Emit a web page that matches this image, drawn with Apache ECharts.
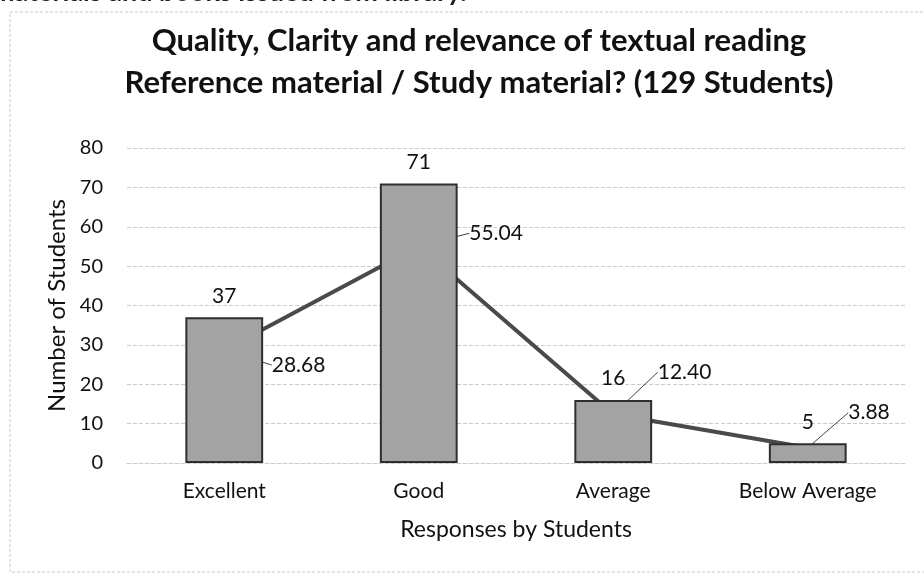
<!DOCTYPE html>
<html>
<head>
<meta charset="utf-8">
<script src="https://cdn.jsdelivr.net/npm/echarts@6/dist/echarts.min.js"></script>
<style>
  html, body { margin: 0; padding: 0; background: #fff; }
  #chart { width: 924px; height: 573px; }
</style>
</head>
<body>
<div id="chart"></div>
<script>
  // data
  var categories = ['Excellent', 'Good', 'Average', 'Below Average'];
  var students = [37, 71, 16, 5];
  var percents = [28.68, 55.04, 12.40, 3.88];
  var yTicks = { min: 0, max: 80, interval: 10 };
  // offsets of the percentage labels (pixels, relative to default spot)
  var pctLabelShift = [[42, 15], [45, -13], [39, -42], [35, -35]];

  var FONT = 'Lato, "Open Sans", sans-serif';
  var chart = echarts.init(document.getElementById('chart'));

  var option = {
    backgroundColor: '#fff',
    textStyle: { fontFamily: FONT },
    title: {
      text: 'Quality, Clarity and relevance of textual reading\nReference material / Study material? (129 Students)',
      left: 474,
      top: 15,
      textAlign: 'center',
      textStyle: { fontSize: 31, fontWeight: 'bold', color: '#111', lineHeight: 42, fontFamily: FONT }
    },
    graphic: [
      {
        // scanned page frame
        type: 'rect',
        shape: { x: 10, y: 12, width: 930, height: 560 },
        style: { fill: 'none', stroke: '#cfc6c6', lineWidth: 1, lineDash: [3, 2] },
        silent: true
      },
      {
        // line of page text cut off at the top of the scan
        type: 'text',
        left: -8,
        top: -21,
        style: { text: 'materials and books issued from library.', font: 'bold 27px ' + FONT, fill: '#222' },
        silent: true
      }
    ],
    grid: { left: 127, right: 19, top: 148, bottom: 110, containLabel: false },
    xAxis: {
      type: 'category',
      data: categories,
      name: 'Responses by Students',
      nameLocation: 'middle',
      nameGap: 55,
      nameTextStyle: { fontSize: 23, color: '#111' },
      axisLine: { show: true, lineStyle: { color: '#ccc', type: 'dashed' } },
      axisTick: { show: false },
      axisLabel: { fontSize: 21, color: '#111', margin: 18 }
    },
    yAxis: {
      type: 'value',
      min: yTicks.min,
      max: yTicks.max,
      interval: yTicks.interval,
      name: 'Number of Students',
      nameLocation: 'middle',
      nameGap: 56,
      nameTextStyle: { fontSize: 24, color: '#111' },
      axisLine: { show: false },
      axisTick: { show: false },
      axisLabel: { fontSize: 20, color: '#111', margin: 24 },
      splitLine: { lineStyle: { color: '#d2c8c8', type: [4, 2], width: 1 } }
    },
    series: [
      {
        name: 'Percent',
        type: 'line',
        data: percents,
        z: 1,
        showSymbol: true,
        symbol: 'circle',
        symbolSize: 1,
        itemStyle: { color: 'rgba(0,0,0,0)' },
        lineStyle: { color: '#4a4a4a', width: 4 },
        label: {
          show: true,
          position: 'right',
          distance: 5,
          fontSize: 21,
          color: '#111',
          formatter: function (p) { return p.value.toFixed(2); }
        },
        labelLine: { show: true, lineStyle: { color: '#444', width: 1 } },
        labelLayout: function (params) {
          var s = pctLabelShift[params.dataIndex];
          return { dx: s[0], dy: s[1] };
        }
      },
      {
        name: 'Students',
        type: 'bar',
        data: students,
        z: 2,
        barWidth: '40%',
        itemStyle: { color: '#a3a3a3', borderColor: '#2e2e2e', borderWidth: 2 },
        label: { show: true, position: 'top', distance: 11, fontSize: 21, color: '#111' }
      }
    ]
  };

  chart.setOption(option);
</script>
</body>
</html>
